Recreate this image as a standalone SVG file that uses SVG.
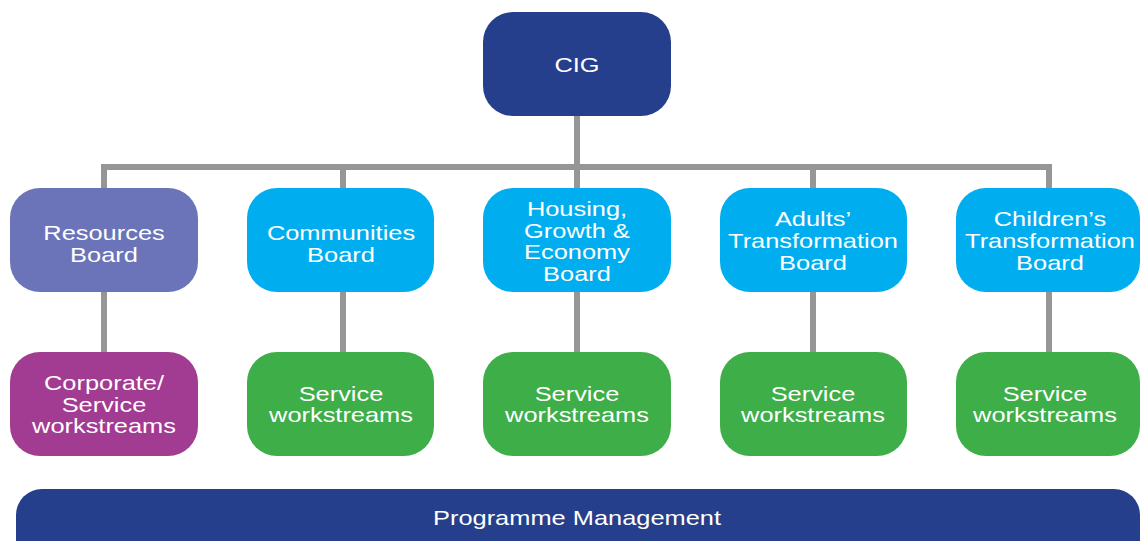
<svg xmlns="http://www.w3.org/2000/svg" width="1140" height="541" viewBox="0 0 1140 541">
<style>
.t{font-family:"Liberation Sans",Arial,sans-serif;font-size:21px;fill:#ffffff;text-anchor:middle}
.c{stroke:#969696;stroke-width:6;fill:none}
.navy{fill:#253F8C}
.res{fill:#6B74B8}
.cyan{fill:#00AEEF}
.purple{fill:#A23B92}
.green{fill:#3EAE49}
</style>
<rect width="1140" height="541" fill="#ffffff"/>
<g id="connectors">
<path class="c" d="M577,116V167M101,167H1052M104,167V352M343,167V352M577,167V352M813,167V352M1049,167V352"/>
</g>
<g id="cig">
<rect class="navy" x="483" y="12" width="188" height="104" rx="30"/>
<text class="t" transform="translate(577,72) scale(1.21,1)">CIG</text>
</g>
<g id="resources">
<rect class="res" x="10" y="188" width="188" height="104" rx="30"/>
<text class="t" transform="translate(104,240) scale(1.21,1)">Resources</text>
<text class="t" transform="translate(104,262) scale(1.21,1)">Board</text>
</g>
<g id="communities">
<rect class="cyan" x="247" y="188" width="187" height="104" rx="30"/>
<text class="t" transform="translate(341,240) scale(1.21,1)">Communities</text>
<text class="t" transform="translate(341,262) scale(1.21,1)">Board</text>
</g>
<g id="housing">
<rect class="cyan" x="483" y="188" width="188" height="104" rx="30"/>
<text class="t" transform="translate(577,216) scale(1.21,1)">Housing,</text>
<text class="t" transform="translate(577,237.5) scale(1.21,1)">Growth &amp;</text>
<text class="t" transform="translate(577,259) scale(1.21,1)">Economy</text>
<text class="t" transform="translate(577,280.5) scale(1.21,1)">Board</text>
</g>
<g id="adults">
<rect class="cyan" x="720" y="188" width="187" height="104" rx="30"/>
<text class="t" transform="translate(813,226) scale(1.21,1)">Adults’</text>
<text class="t" transform="translate(813,248) scale(1.21,1)">Transformation</text>
<text class="t" transform="translate(813,270) scale(1.21,1)">Board</text>
</g>
<g id="children">
<rect class="cyan" x="956" y="188" width="184" height="104" rx="30"/>
<text class="t" transform="translate(1050,226) scale(1.21,1)">Children’s</text>
<text class="t" transform="translate(1050,248) scale(1.21,1)">Transformation</text>
<text class="t" transform="translate(1050,270) scale(1.21,1)">Board</text>
</g>
<g id="corporate">
<rect class="purple" x="10" y="352" width="188" height="104" rx="30"/>
<text class="t" transform="translate(104,390) scale(1.21,1)">Corporate/</text>
<text class="t" transform="translate(104,412) scale(1.21,1)">Service</text>
<text class="t" transform="translate(104,433) scale(1.21,1)">workstreams</text>
</g>
<g id="ws-communities">
<rect class="green" x="247" y="352" width="187" height="104" rx="30"/>
<text class="t" transform="translate(341,401) scale(1.21,1)">Service</text>
<text class="t" transform="translate(341,422) scale(1.21,1)">workstreams</text>
</g>
<g id="ws-housing">
<rect class="green" x="483" y="352" width="188" height="104" rx="30"/>
<text class="t" transform="translate(577,401) scale(1.21,1)">Service</text>
<text class="t" transform="translate(577,422) scale(1.21,1)">workstreams</text>
</g>
<g id="ws-adults">
<rect class="green" x="720" y="352" width="187" height="104" rx="30"/>
<text class="t" transform="translate(813,401) scale(1.21,1)">Service</text>
<text class="t" transform="translate(813,422) scale(1.21,1)">workstreams</text>
</g>
<g id="ws-children">
<rect class="green" x="956" y="352" width="184" height="104" rx="30"/>
<text class="t" transform="translate(1045,401) scale(1.21,1)">Service</text>
<text class="t" transform="translate(1045,422) scale(1.21,1)">workstreams</text>
</g>
<g id="programme">
<rect class="navy" x="16" y="489" width="1124" height="80" rx="26"/>
<text class="t" transform="translate(577,525) scale(1.21,1)">Programme Management</text>
</g>
</svg>
